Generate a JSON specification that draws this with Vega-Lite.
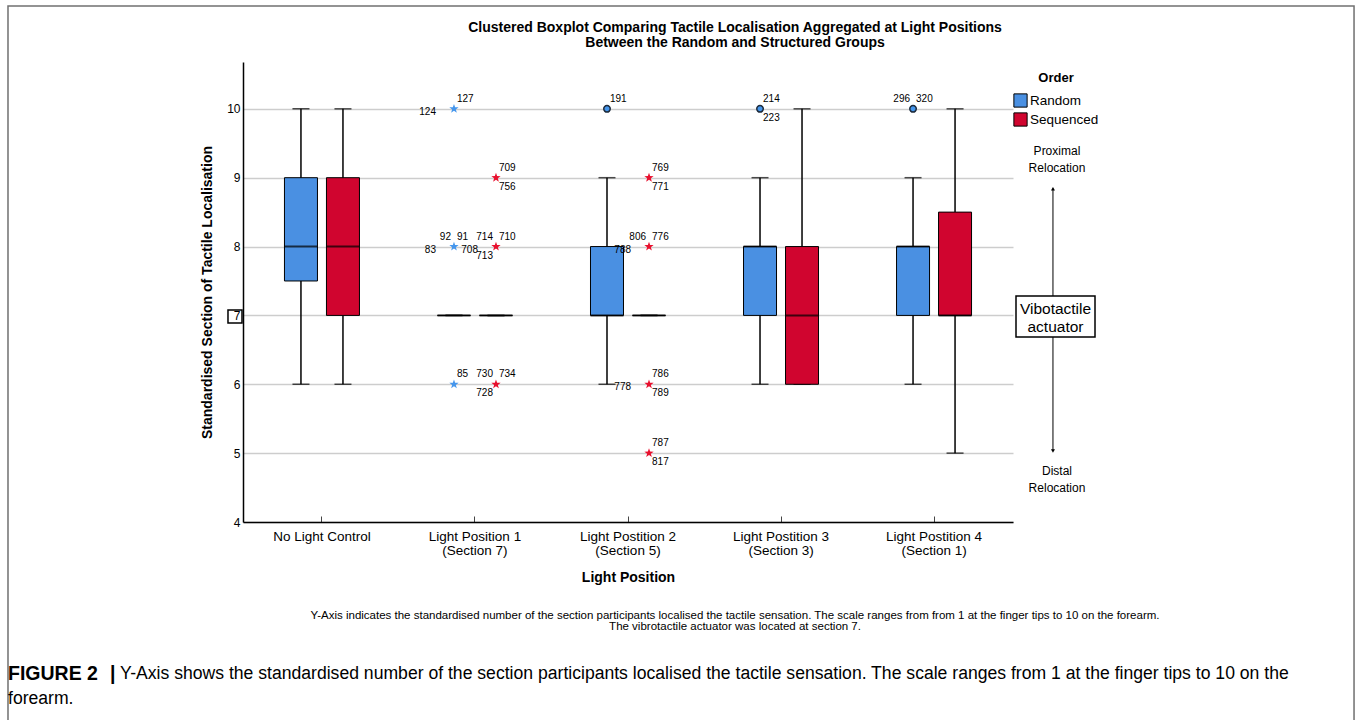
{
  "$schema": "https://vega.github.io/schema/vega-lite/v6.json",
  "autosize": {"type": "none"},
  "padding": {"left": 243, "top": 62, "right": 343, "bottom": 198},
  "width": 770,
  "height": 460,
  "background": "white",
  "config": {
    "font": "Liberation Sans",
    "view": {"stroke": null},
    "axis": {"labelFont": "Liberation Sans", "titleFont": "Liberation Sans", "labelColor": "black", "titleColor": "black"},
    "legend": {"labelFont": "Liberation Sans", "titleFont": "Liberation Sans"}
  },
  "datasets": {
    "boxes": [
      {"position": "No Light Control", "order": "Random", "min": 6, "q1": 7.5, "median": 8, "q3": 9, "max": 10},
      {"position": "No Light Control", "order": "Sequenced", "min": 6, "q1": 7, "median": 8, "q3": 9, "max": 10},
      {"position": "Light Position 1 (Section 7)", "order": "Random", "min": 7, "q1": 7, "median": 7, "q3": 7, "max": 7},
      {"position": "Light Position 1 (Section 7)", "order": "Sequenced", "min": 7, "q1": 7, "median": 7, "q3": 7, "max": 7},
      {"position": "Light Postition 2 (Section 5)", "order": "Random", "min": 6, "q1": 7, "median": 7, "q3": 8, "max": 9},
      {"position": "Light Postition 2 (Section 5)", "order": "Sequenced", "min": 7, "q1": 7, "median": 7, "q3": 7, "max": 7},
      {"position": "Light Postition 3 (Section 3)", "order": "Random", "min": 6, "q1": 7, "median": 8, "q3": 8, "max": 9},
      {"position": "Light Postition 3 (Section 3)", "order": "Sequenced", "min": 6, "q1": 6, "median": 7, "q3": 8, "max": 10},
      {"position": "Light Postition 4 (Section 1)", "order": "Random", "min": 6, "q1": 7, "median": 8, "q3": 8, "max": 9},
      {"position": "Light Postition 4 (Section 1)", "order": "Sequenced", "min": 5, "q1": 7, "median": 7, "q3": 8.5, "max": 10}
    ],
    "outliers": [
      {"position": "Light Position 1 (Section 7)", "order": "Random", "value": 10, "kind": "extreme"},
      {"position": "Light Position 1 (Section 7)", "order": "Random", "value": 8, "kind": "extreme"},
      {"position": "Light Position 1 (Section 7)", "order": "Random", "value": 6, "kind": "extreme"},
      {"position": "Light Position 1 (Section 7)", "order": "Sequenced", "value": 9, "kind": "extreme"},
      {"position": "Light Position 1 (Section 7)", "order": "Sequenced", "value": 8, "kind": "extreme"},
      {"position": "Light Position 1 (Section 7)", "order": "Sequenced", "value": 6, "kind": "extreme"},
      {"position": "Light Postition 2 (Section 5)", "order": "Random", "value": 10, "kind": "outlier"},
      {"position": "Light Postition 2 (Section 5)", "order": "Sequenced", "value": 9, "kind": "extreme"},
      {"position": "Light Postition 2 (Section 5)", "order": "Sequenced", "value": 8, "kind": "extreme"},
      {"position": "Light Postition 2 (Section 5)", "order": "Sequenced", "value": 6, "kind": "extreme"},
      {"position": "Light Postition 2 (Section 5)", "order": "Sequenced", "value": 5, "kind": "extreme"},
      {"position": "Light Postition 3 (Section 3)", "order": "Random", "value": 10, "kind": "outlier"},
      {"position": "Light Postition 4 (Section 1)", "order": "Random", "value": 10, "kind": "outlier"}
    ],
    "labels": [
      {"position": "Light Position 1 (Section 7)", "order": "Random", "value": 10, "case": "127", "slot": "above-right"},
      {"position": "Light Position 1 (Section 7)", "order": "Random", "value": 10, "case": "124", "slot": "left"},
      {"position": "Light Position 1 (Section 7)", "order": "Random", "value": 8, "case": "92", "slot": "above-left"},
      {"position": "Light Position 1 (Section 7)", "order": "Random", "value": 8, "case": "91", "slot": "above-right"},
      {"position": "Light Position 1 (Section 7)", "order": "Random", "value": 8, "case": "83", "slot": "left"},
      {"position": "Light Position 1 (Section 7)", "order": "Random", "value": 6, "case": "85", "slot": "above-right"},
      {"position": "Light Position 1 (Section 7)", "order": "Sequenced", "value": 9, "case": "709", "slot": "above-right"},
      {"position": "Light Position 1 (Section 7)", "order": "Sequenced", "value": 9, "case": "756", "slot": "below-right"},
      {"position": "Light Position 1 (Section 7)", "order": "Sequenced", "value": 8, "case": "714", "slot": "above-left"},
      {"position": "Light Position 1 (Section 7)", "order": "Sequenced", "value": 8, "case": "710", "slot": "above-right"},
      {"position": "Light Position 1 (Section 7)", "order": "Sequenced", "value": 8, "case": "708", "slot": "left"},
      {"position": "Light Position 1 (Section 7)", "order": "Sequenced", "value": 8, "case": "713", "slot": "below-left"},
      {"position": "Light Position 1 (Section 7)", "order": "Sequenced", "value": 6, "case": "730", "slot": "above-left"},
      {"position": "Light Position 1 (Section 7)", "order": "Sequenced", "value": 6, "case": "734", "slot": "above-right"},
      {"position": "Light Position 1 (Section 7)", "order": "Sequenced", "value": 6, "case": "728", "slot": "below-left"},
      {"position": "Light Postition 2 (Section 5)", "order": "Random", "value": 10, "case": "191", "slot": "above-right"},
      {"position": "Light Postition 2 (Section 5)", "order": "Sequenced", "value": 9, "case": "769", "slot": "above-right"},
      {"position": "Light Postition 2 (Section 5)", "order": "Sequenced", "value": 9, "case": "771", "slot": "below-right"},
      {"position": "Light Postition 2 (Section 5)", "order": "Sequenced", "value": 8, "case": "806", "slot": "above-left"},
      {"position": "Light Postition 2 (Section 5)", "order": "Sequenced", "value": 8, "case": "776", "slot": "above-right"},
      {"position": "Light Postition 2 (Section 5)", "order": "Sequenced", "value": 8, "case": "788", "slot": "left"},
      {"position": "Light Postition 2 (Section 5)", "order": "Sequenced", "value": 6, "case": "786", "slot": "above-right"},
      {"position": "Light Postition 2 (Section 5)", "order": "Sequenced", "value": 6, "case": "789", "slot": "below-right"},
      {"position": "Light Postition 2 (Section 5)", "order": "Sequenced", "value": 6, "case": "778", "slot": "left"},
      {"position": "Light Postition 2 (Section 5)", "order": "Sequenced", "value": 5, "case": "787", "slot": "above-right"},
      {"position": "Light Postition 2 (Section 5)", "order": "Sequenced", "value": 5, "case": "817", "slot": "below-right"},
      {"position": "Light Postition 3 (Section 3)", "order": "Random", "value": 10, "case": "214", "slot": "above-right"},
      {"position": "Light Postition 3 (Section 3)", "order": "Random", "value": 10, "case": "223", "slot": "below-right"},
      {"position": "Light Postition 4 (Section 1)", "order": "Random", "value": 10, "case": "296", "slot": "above-left"},
      {"position": "Light Postition 4 (Section 1)", "order": "Random", "value": 10, "case": "320", "slot": "above-right"}
    ]
  },
  "layer": [
    {
      "encoding": {
        "x": {
          "field": "position", "type": "nominal", "sort": null,
          "scale": {"domain": ["No Light Control", "Light Position 1 (Section 7)", "Light Postition 2 (Section 5)", "Light Postition 3 (Section 3)", "Light Postition 4 (Section 1)"], "paddingInner": 0, "paddingOuter": 0.016},
          "axis": {
            "title": "Light Position", "titleFontSize": 14, "titleFontWeight": "bold", "titlePadding": 14,
            "labelAngle": 0, "labelFontSize": 13.5, "labelLineHeight": 14, "labelPadding": 13,
            "labelExpr": "indexof(datum.label, ' (') > 0 ? [substring(datum.label, 0, indexof(datum.label, ' (')), substring(datum.label, indexof(datum.label, ' (') + 1)] : datum.label",
            "tickSize": -6, "tickColor": "#444", "domainColor": "black", "domainWidth": 1.5, "grid": false
          }
        },
        "xOffset": {"field": "order", "type": "nominal", "scale": {"domain": ["Random", "Sequenced"], "paddingInner": 0.2143, "paddingOuter": 0.9286}}
      },
      "layer": [
        {
          "data": {"name": "boxes"},
          "mark": {"type": "rule", "color": "black", "strokeWidth": 1.5},
          "encoding": {
            "y": {"field": "min", "type": "quantitative", "scale": {"domain": [4, 10.68], "nice": false, "zero": false},
              "axis": {"title": "Standardised Section of Tactile Localisation", "titleFontSize": 14, "titleFontWeight": "bold", "titlePadding": 12,
                "values": [4, 5, 6, 7, 8, 9, 10], "format": "d", "grid": true, "gridColor": "#cdcdcd", "gridWidth": 1.5, "ticks": false,
                "labelPadding": 3, "labelFontSize": 12, "domainColor": "black", "domainWidth": 1.5}},
            "y2": {"field": "max"}
          }
        },
        {
          "data": {"name": "boxes"},
          "mark": {"type": "tick", "color": "black", "size": 17, "thickness": 1.5, "orient": "horizontal"},
          "encoding": {"y": {"field": "min", "type": "quantitative", "scale": {"domain": [4, 10.68], "nice": false, "zero": false}}}
        },
        {
          "data": {"name": "boxes"},
          "mark": {"type": "tick", "color": "black", "size": 17, "thickness": 1.5, "orient": "horizontal"},
          "encoding": {"y": {"field": "max", "type": "quantitative", "scale": {"domain": [4, 10.68], "nice": false, "zero": false}}}
        },
        {
          "data": {"name": "boxes"},
          "mark": {"type": "bar", "stroke": "black", "strokeWidth": 1, "opacity": 1},
          "encoding": {
            "y": {"field": "q1", "type": "quantitative", "scale": {"domain": [4, 10.68], "nice": false, "zero": false}},
            "y2": {"field": "q3"},
            "color": {"field": "order", "type": "nominal",
              "scale": {"domain": ["Random", "Sequenced"], "range": ["#4A90E2", "#D0052F"]},
              "legend": {"title": "Order", "orient": "none", "legendX": 770, "legendY": 10, "titleFontSize": 13, "titleFontWeight": "bold", "titleAnchor": "middle", "titlePadding": 8, "titleColor": "black",
                "labelFontSize": 13.5, "labelColor": "black", "labelOffset": 2, "symbolType": "square", "symbolSize": 175, "symbolStrokeColor": "black", "symbolStrokeWidth": 1, "symbolOpacity": 1, "rowPadding": 0}}
          }
        },
        {
          "data": {"name": "boxes"},
          "mark": {"type": "tick", "color": "black", "size": 33, "thickness": 2, "orient": "horizontal"},
          "encoding": {"y": {"field": "median", "type": "quantitative", "scale": {"domain": [4, 10.68], "nice": false, "zero": false}}}
        },
        {
          "data": {"name": "outliers"},
          "transform": [{"filter": "datum.kind == 'outlier'"}],
          "mark": {"type": "point", "shape": "circle", "filled": true, "size": 42, "stroke": "#1d2b3c", "strokeWidth": 1.5, "opacity": 1},
          "encoding": {
            "y": {"field": "value", "type": "quantitative", "scale": {"domain": [4, 10.68], "nice": false, "zero": false}},
            "fill": {"field": "order", "type": "nominal", "scale": {"domain": ["Random", "Sequenced"], "range": ["#4596EC", "#E8102E"]}, "legend": null}
          }
        },
        {
          "data": {"name": "outliers"},
          "transform": [{"filter": "datum.kind == 'extreme'"}],
          "mark": {"type": "point", "shape": "M0,-1L0.235,-0.324L0.951,-0.309L0.38,0.124L0.588,0.809L0,0.4L-0.588,0.809L-0.38,0.124L-0.951,-0.309L-0.235,-0.324Z", "filled": true, "size": 95, "opacity": 1},
          "encoding": {
            "y": {"field": "value", "type": "quantitative", "scale": {"domain": [4, 10.68], "nice": false, "zero": false}},
            "fill": {"field": "order", "type": "nominal", "scale": {"domain": ["Random", "Sequenced"], "range": ["#4596EC", "#E8102E"]}, "legend": null}
          }
        },
        {
          "data": {"name": "labels"},
          "transform": [{"filter": "datum.slot == 'above-right'"}],
          "mark": {"type": "text", "align": "left", "baseline": "middle", "dx": 3, "dy": -10, "fontSize": 10, "color": "black"},
          "encoding": {"y": {"field": "value", "type": "quantitative", "scale": {"domain": [4, 10.68], "nice": false, "zero": false}}, "text": {"field": "case", "type": "nominal"}}
        },
        {
          "data": {"name": "labels"},
          "transform": [{"filter": "datum.slot == 'below-right'"}],
          "mark": {"type": "text", "align": "left", "baseline": "middle", "dx": 3, "dy": 9, "fontSize": 10, "color": "black"},
          "encoding": {"y": {"field": "value", "type": "quantitative", "scale": {"domain": [4, 10.68], "nice": false, "zero": false}}, "text": {"field": "case", "type": "nominal"}}
        },
        {
          "data": {"name": "labels"},
          "transform": [{"filter": "datum.slot == 'above-left'"}],
          "mark": {"type": "text", "align": "right", "baseline": "middle", "dx": -3, "dy": -10, "fontSize": 10, "color": "black"},
          "encoding": {"y": {"field": "value", "type": "quantitative", "scale": {"domain": [4, 10.68], "nice": false, "zero": false}}, "text": {"field": "case", "type": "nominal"}}
        },
        {
          "data": {"name": "labels"},
          "transform": [{"filter": "datum.slot == 'below-left'"}],
          "mark": {"type": "text", "align": "right", "baseline": "middle", "dx": -3, "dy": 9, "fontSize": 10, "color": "black"},
          "encoding": {"y": {"field": "value", "type": "quantitative", "scale": {"domain": [4, 10.68], "nice": false, "zero": false}}, "text": {"field": "case", "type": "nominal"}}
        },
        {
          "data": {"name": "labels"},
          "transform": [{"filter": "datum.slot == 'left'"}],
          "mark": {"type": "text", "align": "right", "baseline": "middle", "dx": -18, "dy": 3, "fontSize": 10, "color": "black"},
          "encoding": {"y": {"field": "value", "type": "quantitative", "scale": {"domain": [4, 10.68], "nice": false, "zero": false}}, "text": {"field": "case", "type": "nominal"}}
        }
      ]
    },
    {
      "data": {"values": [{}]},
      "layer": [
        {
          "mark": {"type": "rect", "filled": false, "stroke": "#707070", "strokeWidth": 1.5},
          "encoding": {
            "x": {"datum": -0.3052, "type": "quantitative", "scale": {"domain": [0, 1], "nice": false, "zero": false}, "axis": null},
            "x2": {"datum": 1.4429},
            "y": {"datum": 11.493, "type": "quantitative", "scale": {"domain": [4, 10.68], "nice": false, "zero": false}},
            "y2": {"datum": -2}
          }
        },
        {
          "mark": {"type": "text", "text": "Clustered Boxplot Comparing Tactile Localisation Aggregated at Light Positions", "align": "center", "baseline": "middle", "fontSize": 14, "fontWeight": "bold", "color": "black"},
          "encoding": {
            "x": {"datum": 0.639, "type": "quantitative", "scale": {"domain": [0, 1], "nice": false, "zero": false}, "axis": null},
            "y": {"datum": 11.174, "type": "quantitative", "scale": {"domain": [4, 10.68], "nice": false, "zero": false}}
          }
        },
        {
          "mark": {"type": "text", "text": "Between the Random and Structured Groups", "align": "center", "baseline": "middle", "fontSize": 14, "fontWeight": "bold", "color": "black"},
          "encoding": {
            "x": {"datum": 0.639, "type": "quantitative", "scale": {"domain": [0, 1], "nice": false, "zero": false}, "axis": null},
            "y": {"datum": 10.956, "type": "quantitative", "scale": {"domain": [4, 10.68], "nice": false, "zero": false}}
          }
        },
        {
          "mark": {"type": "rect", "filled": false, "stroke": "black", "strokeWidth": 1.5},
          "encoding": {
            "x": {"datum": -0.0195, "type": "quantitative", "scale": {"domain": [0, 1], "nice": false, "zero": false}, "axis": null},
            "x2": {"datum": -0.0013},
            "y": {"datum": 7.079, "type": "quantitative", "scale": {"domain": [4, 10.68], "nice": false, "zero": false}},
            "y2": {"datum": 6.89}
          }
        },
        {
          "mark": {"type": "text", "text": ["Proximal", "Relocation"], "align": "center", "baseline": "middle", "fontSize": 12, "lineHeight": 17, "color": "black"},
          "encoding": {
            "x": {"datum": 1.0571, "type": "quantitative", "scale": {"domain": [0, 1], "nice": false, "zero": false}, "axis": null},
            "y": {"datum": 9.388, "type": "quantitative", "scale": {"domain": [4, 10.68], "nice": false, "zero": false}}
          }
        },
        {
          "mark": {"type": "rule", "color": "black", "strokeWidth": 1},
          "encoding": {
            "x": {"datum": 1.0519, "type": "quantitative", "scale": {"domain": [0, 1], "nice": false, "zero": false}, "axis": null},
            "y": {"datum": 7.282, "type": "quantitative", "scale": {"domain": [4, 10.68], "nice": false, "zero": false}},
            "y2": {"datum": 8.84}
          }
        },
        {
          "mark": {"type": "point", "shape": "triangle-up", "filled": true, "size": 16, "color": "black", "opacity": 1},
          "encoding": {
            "x": {"datum": 1.0519, "type": "quantitative", "scale": {"domain": [0, 1], "nice": false, "zero": false}, "axis": null},
            "y": {"datum": 8.84, "type": "quantitative", "scale": {"domain": [4, 10.68], "nice": false, "zero": false}}
          }
        },
        {
          "mark": {"type": "rect", "fill": "white", "stroke": "black", "strokeWidth": 1.5},
          "encoding": {
            "x": {"datum": 1.0039, "type": "quantitative", "scale": {"domain": [0, 1], "nice": false, "zero": false}, "axis": null},
            "x2": {"datum": 1.1065},
            "y": {"datum": 7.282, "type": "quantitative", "scale": {"domain": [4, 10.68], "nice": false, "zero": false}},
            "y2": {"datum": 6.686}
          }
        },
        {
          "mark": {"type": "text", "text": ["Vibotactile", " actuator"], "align": "center", "baseline": "middle", "fontSize": 15.5, "lineHeight": 18, "color": "black"},
          "encoding": {
            "x": {"datum": 1.0552, "type": "quantitative", "scale": {"domain": [0, 1], "nice": false, "zero": false}, "axis": null},
            "y": {"datum": 7.093, "type": "quantitative", "scale": {"domain": [4, 10.68], "nice": false, "zero": false}}
          }
        },
        {
          "mark": {"type": "rule", "color": "black", "strokeWidth": 1},
          "encoding": {
            "x": {"datum": 1.0519, "type": "quantitative", "scale": {"domain": [0, 1], "nice": false, "zero": false}, "axis": null},
            "y": {"datum": 6.686, "type": "quantitative", "scale": {"domain": [4, 10.68], "nice": false, "zero": false}},
            "y2": {"datum": 5.03}
          }
        },
        {
          "mark": {"type": "point", "shape": "triangle-down", "filled": true, "size": 16, "color": "black", "opacity": 1},
          "encoding": {
            "x": {"datum": 1.0519, "type": "quantitative", "scale": {"domain": [0, 1], "nice": false, "zero": false}, "axis": null},
            "y": {"datum": 5.03, "type": "quantitative", "scale": {"domain": [4, 10.68], "nice": false, "zero": false}}
          }
        },
        {
          "mark": {"type": "text", "text": ["Distal", "Relocation"], "align": "center", "baseline": "middle", "fontSize": 12, "lineHeight": 17, "color": "black"},
          "encoding": {
            "x": {"datum": 1.0571, "type": "quantitative", "scale": {"domain": [0, 1], "nice": false, "zero": false}, "axis": null},
            "y": {"datum": 4.74, "type": "quantitative", "scale": {"domain": [4, 10.68], "nice": false, "zero": false}}
          }
        },
        {
          "mark": {"type": "text", "text": "Y-Axis indicates the standardised number of the section participants localised the tactile sensation. The scale ranges from from 1 at the finger tips to 10 on the forearm.", "align": "center", "baseline": "middle", "fontSize": 11.5, "color": "black"},
          "encoding": {
            "x": {"datum": 0.639, "type": "quantitative", "scale": {"domain": [0, 1], "nice": false, "zero": false}, "axis": null},
            "y": {"datum": 2.635, "type": "quantitative", "scale": {"domain": [4, 10.68], "nice": false, "zero": false}}
          }
        },
        {
          "mark": {"type": "text", "text": "The vibrotactile actuator was located at section 7.", "align": "center", "baseline": "middle", "fontSize": 11.5, "color": "black"},
          "encoding": {
            "x": {"datum": 0.639, "type": "quantitative", "scale": {"domain": [0, 1], "nice": false, "zero": false}, "axis": null},
            "y": {"datum": 2.475, "type": "quantitative", "scale": {"domain": [4, 10.68], "nice": false, "zero": false}}
          }
        },
        {
          "mark": {"type": "text", "text": "FIGURE 2", "align": "left", "baseline": "middle", "fontSize": 19.5, "fontWeight": "bold", "color": "black"},
          "encoding": {
            "x": {"datum": -0.3052, "type": "quantitative", "scale": {"domain": [0, 1], "nice": false, "zero": false}, "axis": null},
            "y": {"datum": 1.7926, "type": "quantitative", "scale": {"domain": [4, 10.68], "nice": false, "zero": false}}
          }
        },
        {
          "mark": {"type": "text", "text": "|", "align": "left", "baseline": "middle", "fontSize": 19.5, "fontWeight": "bold", "color": "black"},
          "encoding": {
            "x": {"datum": -0.1727, "type": "quantitative", "scale": {"domain": [0, 1], "nice": false, "zero": false}, "axis": null},
            "y": {"datum": 1.7926, "type": "quantitative", "scale": {"domain": [4, 10.68], "nice": false, "zero": false}}
          }
        },
        {
          "mark": {"type": "text", "text": "Y-Axis shows the standardised number of the section participants localised the tactile sensation. The scale ranges from 1 at the finger tips to 10 on the", "align": "left", "baseline": "middle", "fontSize": 17.6, "color": "black"},
          "encoding": {
            "x": {"datum": -0.1597, "type": "quantitative", "scale": {"domain": [0, 1], "nice": false, "zero": false}, "axis": null},
            "y": {"datum": 1.7926, "type": "quantitative", "scale": {"domain": [4, 10.68], "nice": false, "zero": false}}
          }
        },
        {
          "mark": {"type": "text", "text": "forearm.", "align": "left", "baseline": "middle", "fontSize": 17.6, "color": "black"},
          "encoding": {
            "x": {"datum": -0.3052, "type": "quantitative", "scale": {"domain": [0, 1], "nice": false, "zero": false}, "axis": null},
            "y": {"datum": 1.4295, "type": "quantitative", "scale": {"domain": [4, 10.68], "nice": false, "zero": false}}
          }
        }
      ]
    }
  ],
  "resolve": {"scale": {"x": "independent"}, "axis": {"x": "independent"}}
}
